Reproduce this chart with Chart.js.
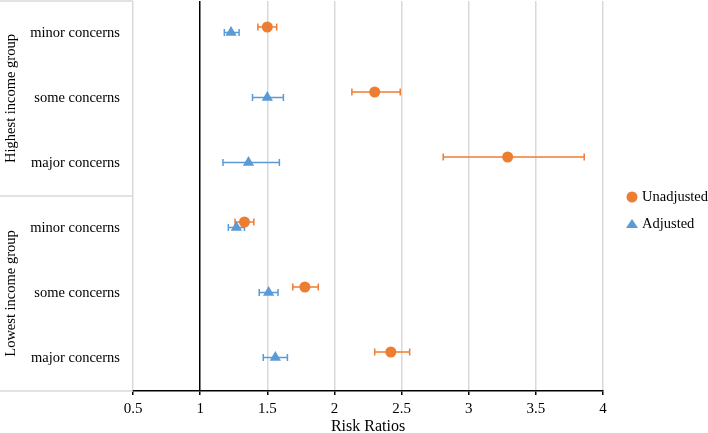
<!DOCTYPE html>
<html>
<head>
<meta charset="utf-8">
<title>Risk Ratios</title>
<script src="https://cdn.jsdelivr.net/npm/chart.js@4.4.1/dist/chart.umd.min.js"></script>
<style>
  html, body { margin: 0; padding: 0; background: #fff; }
  canvas { display: block; }
</style>
</head>
<body>
<canvas id="rrChart" width="708" height="433"></canvas>
<script>
// rows, top to bottom
const rowLabels = ["minor concerns", "some concerns", "major concerns",
                   "minor concerns", "some concerns", "major concerns"];
const groupLabels = ["Highest income group", "Lowest income group"];
const xTicks = [0.5, 1, 1.5, 2, 2.5, 3, 3.5, 4];

// Unadjusted risk ratios with 95% CI
const unadjRR   = [1.50, 2.30, 3.29, 1.33, 1.78, 2.42];
const unadjLow  = [1.43, 2.13, 2.81, 1.26, 1.69, 2.30];
const unadjHigh = [1.57, 2.49, 3.86, 1.40, 1.88, 2.56];

// Adjusted risk ratios with 95% CI
const adjRR   = [1.23, 1.50, 1.36, 1.27, 1.51, 1.56];
const adjLow  = [1.18, 1.39, 1.17, 1.21, 1.44, 1.47];
const adjHigh = [1.29, 1.62, 1.59, 1.33, 1.58, 1.65];

const ORANGE = "#ED7D31";
const BLUE = "#5B9BD5";
const GRID = "#D9D9D9";
const FONT = "'Liberation Serif', 'Times New Roman', serif";

const forestPlugin = {
    id: "forest",
    beforeDatasetsDraw(chart) {
        const ctx = chart.ctx;
        const xs = chart.scales.x;
        chart.data.datasets.forEach((ds, di) => {
            const meta = chart.getDatasetMeta(di);
            ctx.save();
            ctx.strokeStyle = ds.borderColor;
            ctx.lineWidth = 1.5;
            meta.data.forEach((pt, i) => {
                const x1 = xs.getPixelForValue(ds.lo[i]);
                const x2 = xs.getPixelForValue(ds.hi[i]);
                const y = pt.y;
                ctx.beginPath();
                ctx.moveTo(x1, y); ctx.lineTo(x2, y);
                ctx.moveTo(x1, y - 3.5); ctx.lineTo(x1, y + 3.5);
                ctx.moveTo(x2, y - 3.5); ctx.lineTo(x2, y + 3.5);
                ctx.stroke();
            });
            ctx.restore();
        });
    },
    afterDraw(chart) {
        const ctx = chart.ctx;
        const ys = chart.scales.y;
        const area = chart.chartArea;
        ctx.save();
        // left label panel
        ctx.strokeStyle = GRID;
        ctx.lineWidth = 1.5;
        [0, 3, 6].forEach(v => {
            const y = ys.getPixelForValue(v);
            ctx.beginPath();
            ctx.moveTo(0, y); ctx.lineTo(area.left, y);
            ctx.stroke();
        });
        // group labels
        ctx.fillStyle = "#000";
        ctx.font = "14.5px " + FONT;
        ctx.textAlign = "center";
        ctx.textBaseline = "middle";
        groupLabels.forEach((g, i) => {
            const y = ys.getPixelForValue(i * 3 + 1.5);
            ctx.save();
            ctx.translate(11, y);
            ctx.rotate(-Math.PI / 2);
            ctx.fillText(g, 0, 0);
            ctx.restore();
        });
        // legend
        const lx = area.right + 29;
        const ly = ys.getPixelForValue(3) + 1;
        ctx.textAlign = "left";
        ctx.fillStyle = ORANGE;
        ctx.beginPath();
        ctx.arc(lx, ly, 5.5, 0, Math.PI * 2);
        ctx.fill();
        ctx.fillStyle = BLUE;
        ctx.beginPath();
        ctx.moveTo(lx, ly + 22);
        ctx.lineTo(lx + 6, ly + 31);
        ctx.lineTo(lx - 6, ly + 31);
        ctx.closePath();
        ctx.fill();
        ctx.fillStyle = "#000";
        ctx.fillText("Unadjusted", lx + 10, ly);
        ctx.fillText("Adjusted", lx + 10, ly + 27);
        ctx.restore();
    }
};

const ctx = document.getElementById("rrChart").getContext("2d");

new Chart(ctx, {
    type: "scatter",
    data: {
        datasets: [{
            label: "Unadjusted",
            data: unadjRR.map((v, i) => ({ x: v, y: i + 0.4 })),
            lo: unadjLow,
            hi: unadjHigh,
            pointStyle: "circle",
            pointRadius: 5.5,
            backgroundColor: ORANGE,
            borderColor: ORANGE,
            borderWidth: 0
        }, {
            label: "Adjusted",
            data: adjRR.map((v, i) => ({ x: v, y: i + 0.485 })),
            lo: adjLow,
            hi: adjHigh,
            pointStyle: "triangle",
            pointRadius: 6.5,
            backgroundColor: BLUE,
            borderColor: BLUE,
            borderWidth: 0
        }]
    },
    options: {
        responsive: false,
        animation: false,
        layout: { autoPadding: false, padding: { top: 1, right: 105, left: 0, bottom: 0 } },
        plugins: {
            legend: { display: false },
            tooltip: { enabled: false }
        },
        scales: {
            x: {
                type: "linear",
                min: 0.5,
                max: 4,
                afterBuildTicks: s => { s.ticks = xTicks.map(v => ({ value: v })); },
                afterFit: s => { s.height = 42; s.paddingLeft = 0; s.paddingRight = 0; },
                ticks: {
                    color: "#000",
                    padding: 5,
                    font: { family: FONT, size: 15 },
                    callback: v => String(v)
                },
                grid: {
                    color: c => c.tick && c.tick.value === 1 ? "#000" : GRID,
                    lineWidth: 1.5,
                    tickColor: "#000",
                    tickLength: 4
                },
                border: { color: "#000", width: 1.5 },
                title: {
                    display: true,
                    text: "Risk Ratios",
                    color: "#000",
                    font: { family: FONT, size: 16, lineHeight: 1 },
                    padding: { top: 0, bottom: -2 }
                }
            },
            y: {
                type: "linear",
                min: 0,
                max: 6,
                reverse: true,
                afterBuildTicks: s => { s.ticks = rowLabels.map((_, i) => ({ value: i + 0.5 })); },
                afterFit: s => { s.width = 133; s.paddingTop = 0; s.paddingBottom = 0; },
                ticks: {
                    color: "#000",
                    padding: 13,
                    font: { family: FONT, size: 14.5 },
                    callback: v => rowLabels[Math.floor(v)]
                },
                grid: { display: false, drawTicks: false },
                border: { display: false }
            }
        }
    },
    plugins: [forestPlugin]
});
</script>
</body>
</html>
